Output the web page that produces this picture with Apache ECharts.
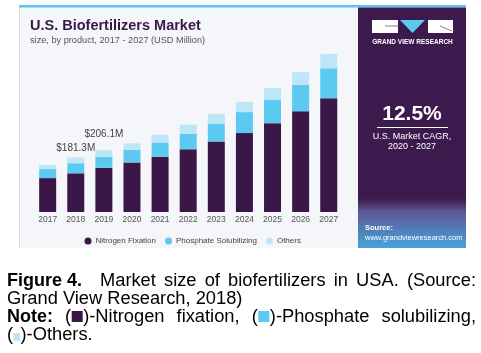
<!DOCTYPE html>
<html>
<head>
<meta charset="utf-8">
<script src="https://cdn.jsdelivr.net/npm/echarts@6/dist/echarts.min.js"></script>
<style>
  html, body { margin: 0; padding: 0; background: #fff; }
  #chart { width: 481px; height: 353px; }
</style>
</head>
<body>
<div id="chart"></div>
<script>
// values (USD million)
const years = ["2017", "2018", "2019", "2020", "2021", "2022", "2023", "2024", "2025", "2026", "2027"];
const nitrogen = [113, 129, 147.5, 165, 184, 209, 235, 263, 296, 336, 379];
const phosphate = [30, 33.5, 36.6, 42, 48, 52, 60, 70, 79, 88, 100];
const others = [14, 18.8, 22, 22, 26, 30, 32, 34, 38, 42, 48];
// years that carry a total label, and how far above the bar it sits
const labelled = { "2018": 4, "2019": 11 };

const purple = "#3b1748";
const blue = "#5ccaf0";
const light = "#bde6f6";
const font = "Liberation Sans";
const capFont = "18.3px " + font;
const capBold = "bold 18px " + font;

const container = document.getElementById("chart");
const chart = echarts.init(container, null, { renderer: "canvas" });

function total(i) {
  return nitrogen[i] + phosphate[i] + others[i];
}

const othersData = others.map((v, i) => {
  const d = labelled[years[i]];
  if (d === undefined) return v;
  return {
    value: v,
    label: {
      show: true,
      position: "top",
      distance: d,
      formatter: () => "$" + total(i).toFixed(1) + "M",
      color: "#444",
      fontSize: 10,
      fontFamily: font,
    },
  };
});

// measuring for the justified caption lines
const ctx = document.createElement("canvas").getContext("2d");
function measure(part) {
  if (part.sq) return part.w;
  ctx.font = part.bold ? capBold : capFont;
  return ctx.measureText(part.t).width;
}

// tokens: each is a list of parts (text or square), spread from x0 to x1
function justify(tokens, x0, x1, y, out) {
  const widths = tokens.map((tk) => tk.reduce((s, p) => s + measure(p), 0));
  const used = widths.reduce((a, b) => a + b, 0);
  const gap = tokens.length > 1 ? (x1 - x0 - used) / (tokens.length - 1) : 0;
  let x = x0;
  tokens.forEach((tk, k) => {
    let px = x;
    tk.forEach((p) => {
      const w = measure(p);
      if (p.sq) {
        out.push({ type: "rect", shape: { x: px + 0.5, y: y - 6, width: w - 1, height: 11 }, style: { fill: p.sq } });
      } else {
        out.push({
          type: "text", x: px, y: y,
          style: { text: p.t, fill: "#000", font: p.bold ? capBold : capFont, verticalAlign: "middle" },
        });
      }
      px += w;
    });
    x += widths[k] + gap;
  });
}

const graphics = [
  // card background and border
  { type: "rect", z: -10, shape: { x: 19, y: 7, width: 339, height: 241 }, style: { fill: "#f4f6fa" } },
  { type: "rect", z: -9, shape: { x: 19, y: 7, width: 1, height: 241 }, style: { fill: "#d3d6db" } },
  { type: "rect", z: -9, shape: { x: 19, y: 5, width: 447, height: 2.5 }, style: { fill: "#5cc6ee" } },
  // right panel
  { type: "rect", z: -9, shape: { x: 358, y: 7.5, width: 108, height: 240.5 }, style: { fill: "#3c1a4d" } },
  {
    type: "rect", z: -8, shape: { x: 358, y: 194, width: 108, height: 54 },
    style: {
      fill: new echarts.graphic.LinearGradient(0, 0, 0, 1, [
        { offset: 0, color: "rgba(60,26,77,0)" },
        { offset: 0.3, color: "#5d5590" },
        { offset: 1, color: "#47a3dc" },
      ]),
    },
  },
  // logo
  { type: "rect", shape: { x: 372, y: 20, width: 26, height: 13 }, style: { fill: "#fff" } },
  { type: "polygon", shape: { points: [[400, 20], [425, 20], [412.5, 33]] }, style: { fill: "#5ccaf0" } },
  { type: "rect", shape: { x: 428, y: 20, width: 25, height: 13 }, style: { fill: "#fff" } },
  { type: "line", shape: { x1: 385, y1: 26, x2: 398, y2: 26 }, style: { stroke: "#3c1a4d", lineWidth: 0.6 } },
  { type: "line", shape: { x1: 440, y1: 26, x2: 452, y2: 31 }, style: { stroke: "#3c1a4d", lineWidth: 0.6 } },
  {
    type: "text", x: 412.5, y: 42,
    style: { text: "GRAND VIEW RESEARCH", fill: "#fff", font: "bold 6.5px " + font, align: "center", verticalAlign: "middle" },
  },
  {
    type: "text", x: 412, y: 114,
    style: { text: "12.5%", fill: "#fff", font: "bold 21px " + font, align: "center", verticalAlign: "middle" },
  },
  { type: "rect", shape: { x: 377, y: 127, width: 71, height: 1 }, style: { fill: "#fff" } },
  {
    type: "text", x: 412, y: 137,
    style: { text: "U.S. Market CAGR,", fill: "#fff", font: "9px " + font, align: "center", verticalAlign: "middle" },
  },
  {
    type: "text", x: 412, y: 147,
    style: { text: "2020 - 2027", fill: "#fff", font: "9px " + font, align: "center", verticalAlign: "middle" },
  },
  {
    type: "text", x: 365, y: 228,
    style: { text: "Source:", fill: "#fff", font: "bold 7.5px " + font, verticalAlign: "middle" },
  },
  {
    type: "text", x: 365, y: 238,
    style: { text: "www.grandviewresearch.com", fill: "#fff", font: "7.5px " + font, verticalAlign: "middle" },
  },
  // title
  {
    type: "text", x: 30, y: 26,
    style: { text: "U.S. Biofertilizers Market", fill: purple, font: "900 14.5px " + font, verticalAlign: "middle" },
  },
  {
    type: "text", x: 30, y: 40,
    style: { text: "size, by product, 2017 - 2027 (USD Million)", fill: "#555", font: "9.2px " + font, verticalAlign: "middle" },
  },
];

// caption
graphics.push({
  type: "text", x: 7, y: 281,
  style: { text: "Figure 4.", fill: "#000", font: capBold, verticalAlign: "middle" },
});
justify(
  ["Market", "size", "of", "biofertilizers", "in", "USA.", "(Source:"].map((t) => [{ t }]),
  100, 476, 281, graphics
);
graphics.push({
  type: "text", x: 7, y: 299,
  style: { text: "Grand View Research, 2018)", fill: "#000", font: capFont, verticalAlign: "middle" },
});
justify(
  [
    [{ t: "Note:", bold: true }],
    [{ t: "(" }, { sq: purple, w: 12 }, { t: ")-Nitrogen" }],
    [{ t: "fixation," }],
    [{ t: "(" }, { sq: blue, w: 12 }, { t: ")-Phosphate" }],
    [{ t: "solubilizing," }],
  ],
  7, 476, 317, graphics
);
graphics.push({
  type: "text", x: 7, y: 335,
  style: { text: "(", fill: "#000", font: capFont, verticalAlign: "middle" },
});
graphics.push({ type: "rect", shape: { x: 13.5, y: 333, width: 6.5, height: 8 }, style: { fill: light } });
graphics.push({
  type: "text", x: 20.5, y: 335,
  style: { text: ")-Others.", fill: "#000", font: capFont, verticalAlign: "middle" },
});

const options = {
  backgroundColor: "#fff",
  animation: false,
  grid: { left: 33.6, right: 138.2, top: 41, bottom: 141 },
  legend: {
    left: 79.5,
    top: 232,
    icon: "circle",
    itemWidth: 7,
    itemHeight: 7,
    itemGap: 9,
    selectedMode: false,
    textStyle: { color: "#444", fontSize: 8, fontFamily: font, padding: [0, 0, 0, -1] },
  },
  xAxis: {
    type: "category",
    data: years,
    axisLine: { show: false },
    axisTick: { show: false },
    axisLabel: { color: "#555", fontSize: 8.5, fontFamily: font, margin: 3 },
  },
  yAxis: {
    type: "value",
    min: 0,
    max: 570,
    show: false,
    splitLine: { show: false },
  },
  series: [
    { name: "Nitrogen Fixation", type: "bar", stack: "a", barWidth: 17, data: nitrogen, itemStyle: { color: purple } },
    { name: "Phosphate Solubilizing", type: "bar", stack: "a", barWidth: 17, data: phosphate, itemStyle: { color: blue } },
    { name: "Others", type: "bar", stack: "a", barWidth: 17, data: othersData, itemStyle: { color: light } },
  ],
  graphic: graphics,
};

chart.setOption(options);
</script>
</body>
</html>
